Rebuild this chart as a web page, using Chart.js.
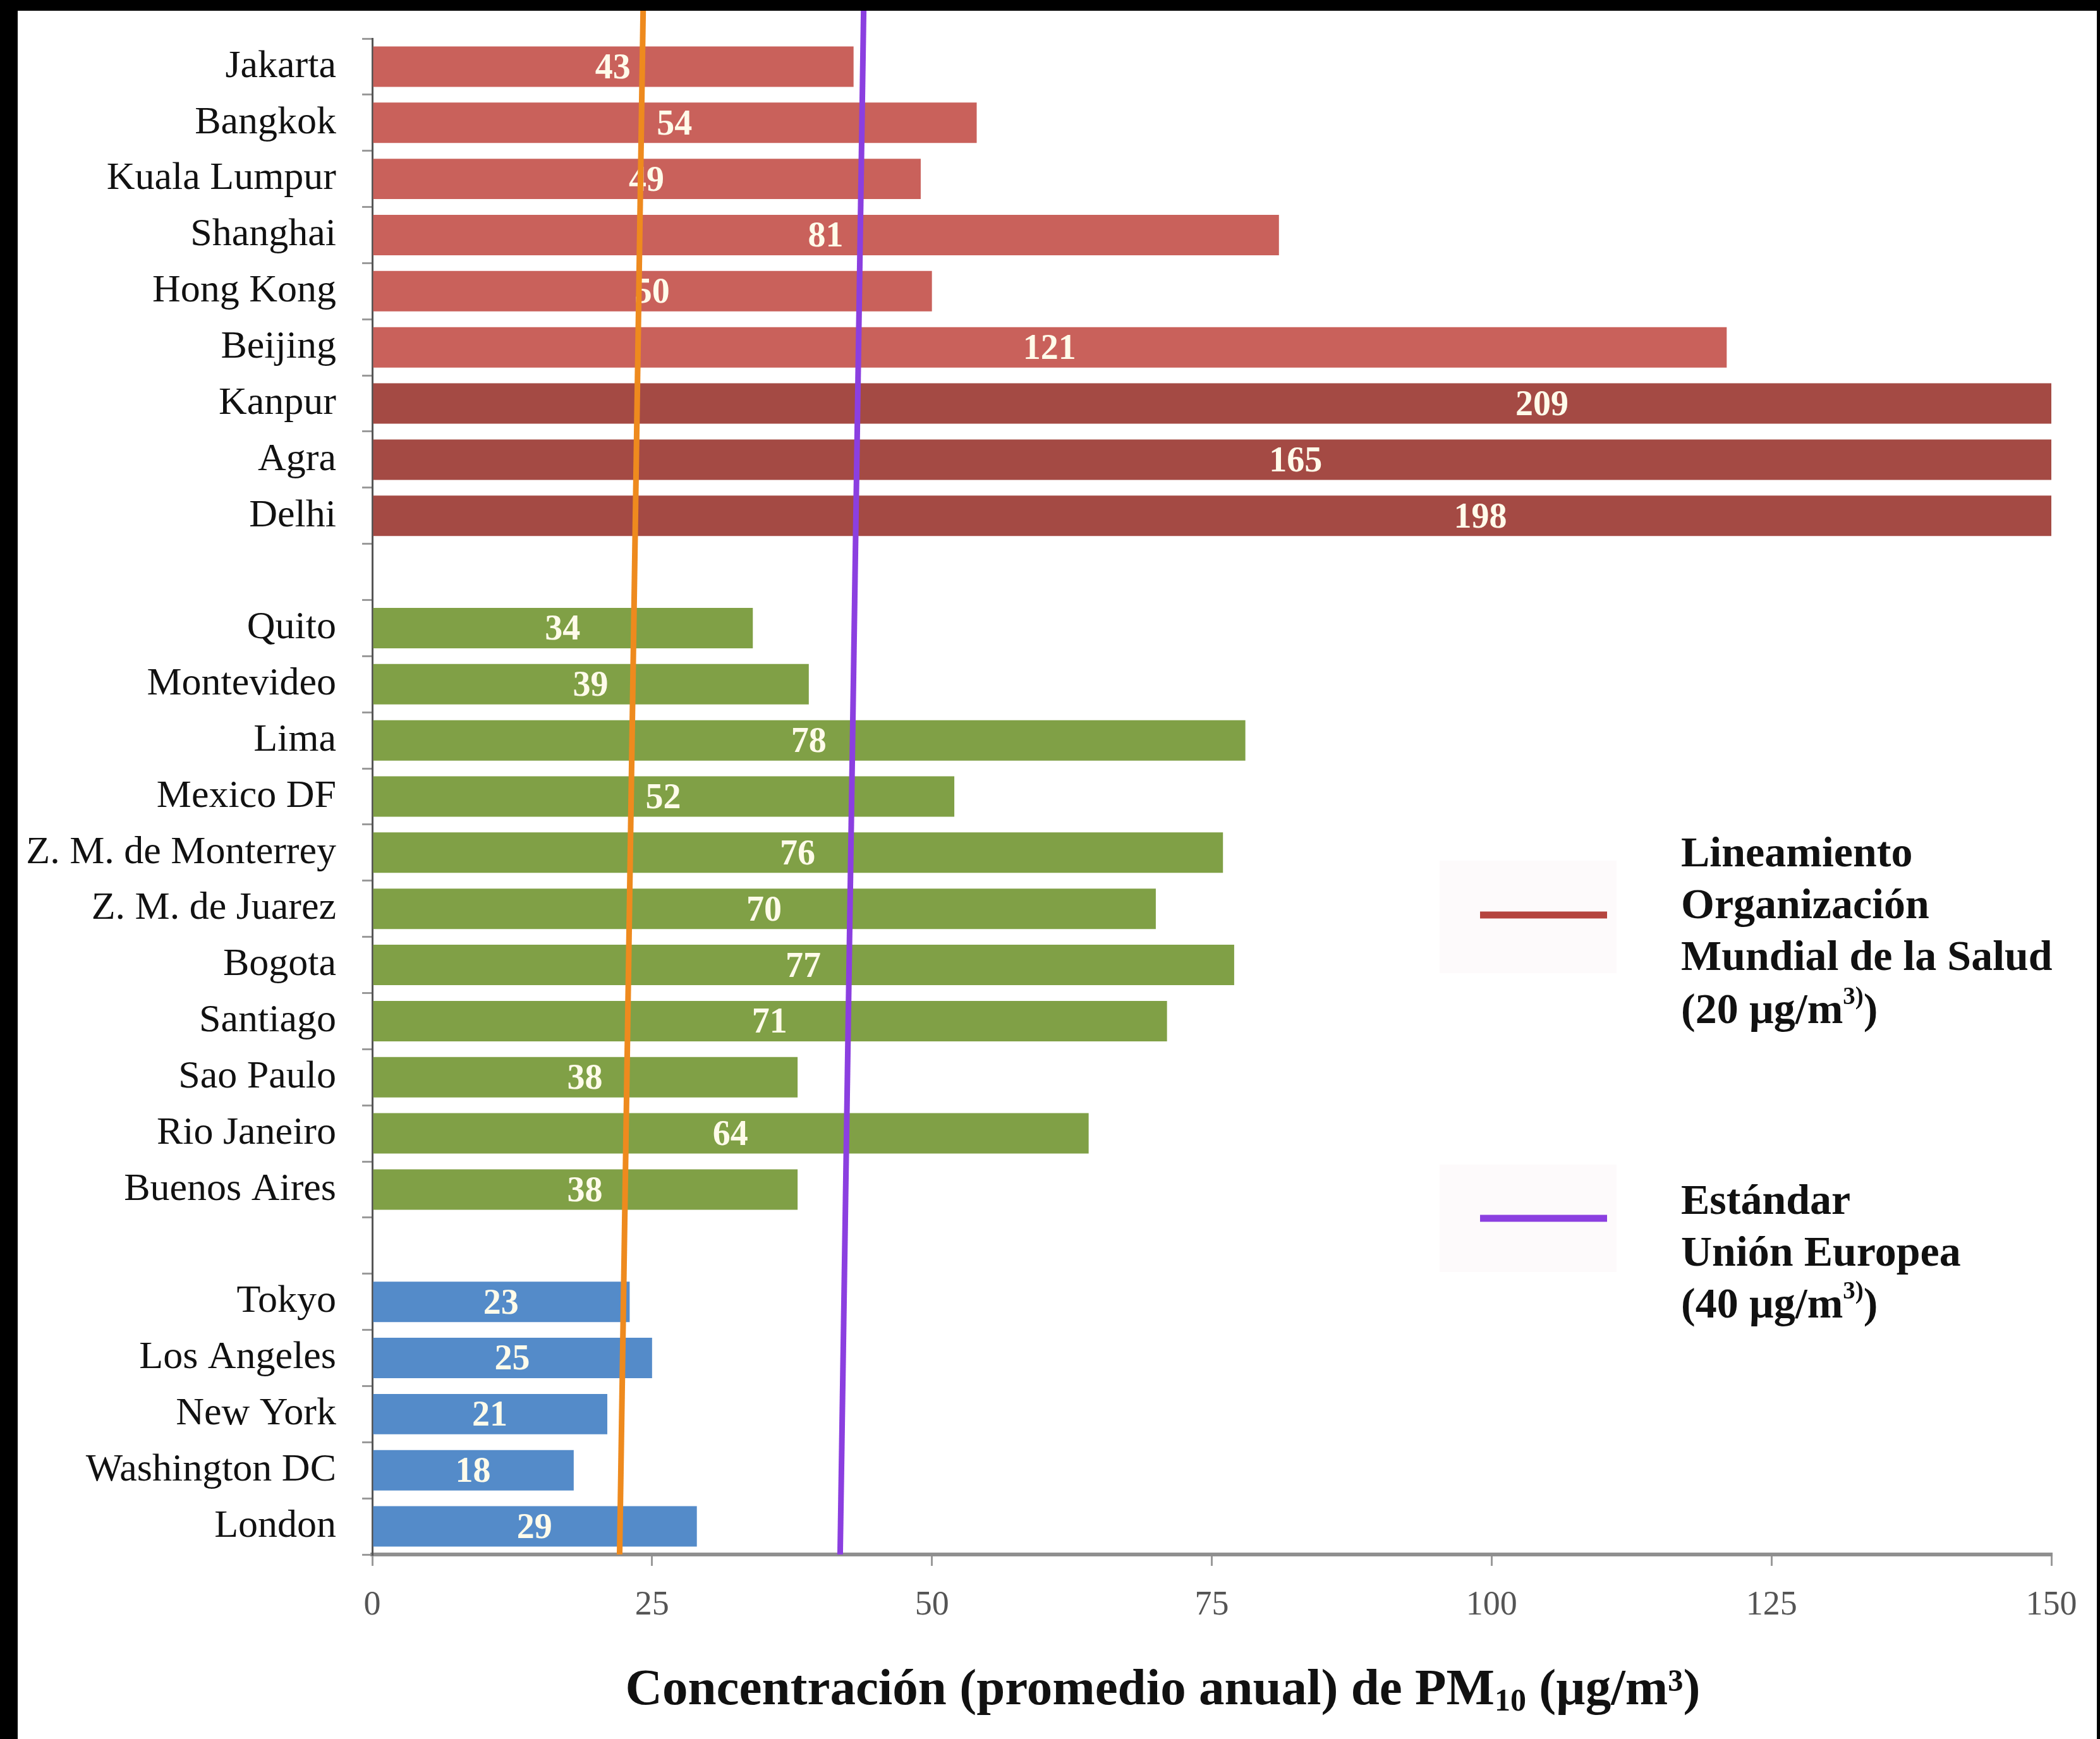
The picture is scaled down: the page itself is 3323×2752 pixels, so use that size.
<!DOCTYPE html>
<html>
<head>
<meta charset="utf-8">
<script src="https://cdn.jsdelivr.net/npm/chart.js@4"></script>
<style>
  html, body { margin: 0; padding: 0; background: #000; }
  body { width: 3323px; height: 2752px; position: relative; overflow: hidden; }
  #pmChart { position: absolute; left: 28px; top: 17px; background: #fff; }
</style>
</head>
<body>
<canvas id="pmChart" width="3290" height="2735"></canvas>
<script>
// PM10 anual por ciudad, filas vacias = separacion entre regiones
const cities = [
  "Jakarta", "Bangkok", "Kuala Lumpur", "Shanghai", "Hong Kong", "Beijing",
  "Kanpur", "Agra", "Delhi", "",
  "Quito", "Montevideo", "Lima", "Mexico DF", "Z. M. de Monterrey",
  "Z. M. de Juarez", "Bogota", "Santiago", "Sao Paulo", "Rio Janeiro",
  "Buenos Aires", "",
  "Tokyo", "Los Angeles", "New York", "Washington DC", "London"
];
const pm10 = [
  43, 54, 49, 81, 50, 121,
  209, 165, 198, null,
  34, 39, 78, 52, 76,
  70, 77, 71, 38, 64,
  38, null,
  23, 25, 21, 18, 29
];
const region = [
  "asia", "asia", "asia", "asia", "asia", "asia",
  "india", "india", "india", "",
  "latam", "latam", "latam", "latam", "latam",
  "latam", "latam", "latam", "latam", "latam",
  "latam", "",
  "north", "north", "north", "north", "north"
];
const xTicks = [0, 25, 50, 75, 100, 125, 150];

// lineas de referencia (valor arriba, valor abajo) - dibujadas a mano, algo inclinadas
const whoLine = [24.2, 22.1];
const euLine = [43.9, 41.8];

const regionColors = {
  asia: "#c9615b",
  india: "#a44a44",
  latam: "#80a046",
  north: "#548bc9",
  "": "#ffffff"
};

const SERIF = "'Liberation Serif', 'Times New Roman', serif";

const barLabels = {
  id: "barLabels",
  afterDatasetsDraw(chart) {
    const ctx = chart.ctx;
    const x = chart.scales.x;
    const meta = chart.getDatasetMeta(0);
    ctx.save();
    ctx.font = "bold 56px " + SERIF;
    ctx.fillStyle = "#fffbea";
    ctx.textAlign = "center";
    ctx.textBaseline = "middle";
    pm10.forEach((v, i) => {
      if (v == null) return;
      ctx.fillText(String(v), x.getPixelForValue(v / 2), meta.data[i].y + 4);
    });
    ctx.restore();
  }
};

const refLines = {
  id: "refLines",
  afterDatasetsDraw(chart) {
    const ctx = chart.ctx;
    const x = chart.scales.x;
    const bottom = chart.chartArea.bottom;
    ctx.save();
    ctx.lineWidth = 9;
    [[whoLine, "#ee8a1e"], [euLine, "#8b3fe0"]].forEach(([vals, col]) => {
      ctx.strokeStyle = col;
      ctx.beginPath();
      ctx.moveTo(x.getPixelForValue(vals[0]), 0);
      ctx.lineTo(x.getPixelForValue(vals[1]), bottom);
      ctx.stroke();
    });
    ctx.restore();
  }
};

function drawSupLine(ctx, x, y, main, sup, tail, size) {
  ctx.font = "bold " + size + "px " + SERIF;
  ctx.fillText(main, x, y);
  let w = ctx.measureText(main).width;
  ctx.font = "bold " + Math.round(size * 0.58) + "px " + SERIF;
  ctx.fillText(sup, x + w, y - size * 0.33);
  w += ctx.measureText(sup).width;
  ctx.font = "bold " + size + "px " + SERIF;
  ctx.fillText(tail, x + w, y);
}

const sideNotes = {
  id: "sideNotes",
  afterDraw(chart) {
    const ctx = chart.ctx;
    ctx.save();
    // legend boxes (muy tenues)
    ctx.fillStyle = "#fdfafb";
    ctx.fillRect(2250, 1345, 280, 178);
    ctx.fillRect(2250, 1826, 280, 170);
    ctx.lineWidth = 11;
    ctx.strokeStyle = "#b5453f";
    ctx.beginPath(); ctx.moveTo(2314, 1431); ctx.lineTo(2515, 1431); ctx.stroke();
    ctx.strokeStyle = "#8b3fe0";
    ctx.beginPath(); ctx.moveTo(2314, 1911); ctx.lineTo(2515, 1911); ctx.stroke();

    ctx.fillStyle = "#111";
    ctx.textAlign = "left";
    ctx.textBaseline = "middle";
    ctx.font = "bold 68px " + SERIF;
    ctx.fillText("Lineamiento", 2632, 1336);
    ctx.fillText("Organización", 2632, 1418);
    ctx.fillText("Mundial de la Salud", 2632, 1500);
    drawSupLine(ctx, 2632, 1584, "(20 µg/m", "3)", ")", 68);
    ctx.font = "bold 68px " + SERIF;
    ctx.fillText("Estándar", 2632, 1886);
    ctx.fillText("Unión Europea", 2632, 1968);
    drawSupLine(ctx, 2632, 2050, "(40 µg/m", "3)", ")", 68);

    // x axis title with subscript
    const size = 81;
    const a = "Concentración (promedio anual) de PM";
    const s = "10";
    const b = " (µg/m³)";
    ctx.font = "bold " + size + "px " + SERIF;
    const wa = ctx.measureText(a).width;
    const wb = ctx.measureText(b).width;
    ctx.font = "bold " + Math.round(size * 0.62) + "px " + SERIF;
    const ws = ctx.measureText(s).width;
    let tx = 1812 - (wa + ws + wb) / 2;
    const ty = 2659;
    ctx.font = "bold " + size + "px " + SERIF;
    ctx.fillText(a, tx, ty);
    ctx.font = "bold " + Math.round(size * 0.62) + "px " + SERIF;
    ctx.fillText(s, tx + wa, ty + size * 0.22);
    ctx.font = "bold " + size + "px " + SERIF;
    ctx.fillText(b, tx + wa + ws, ty);
    ctx.restore();
  }
};

const ctx = document.getElementById("pmChart").getContext("2d");

new Chart(ctx, {
  type: "bar",
  data: {
    labels: cities,
    datasets: [{
      data: pm10,
      backgroundColor: region.map(r => regionColors[r]),
      borderWidth: 0,
      categoryPercentage: 1,
      barPercentage: 0.72
    }]
  },
  options: {
    indexAxis: "y",
    responsive: false,
    animation: false,
    devicePixelRatio: 1,
    layout: { padding: { left: 0, right: 72, top: 44, bottom: 0 } },
    plugins: {
      legend: { display: false },
      tooltip: { enabled: false }
    },
    scales: {
      x: {
        min: 0,
        max: 150,
        afterFit(scale) { scale.height = 292; },
        afterBuildTicks(scale) { scale.ticks = xTicks.map(v => ({ value: v })); },
        ticks: {
          color: "#555",
          padding: 30,
          font: { family: SERIF, size: 54 }
        },
        grid: {
          drawOnChartArea: false,
          tickLength: 18,
          color: "#9a9a9a",
          lineWidth: 3
        },
        border: { display: true, color: "#8f8f8f", width: 6 }
      },
      y: {
        afterFit(scale) {
          scale.width = 561;
          scale.paddingTop = 0;
          scale.paddingBottom = 0;
        },
        ticks: {
          autoSkip: false,
          color: "#111",
          padding: 41,
          font: { family: SERIF, size: 62 }
        },
        grid: {
          drawOnChartArea: false,
          offset: true,
          tickLength: 16,
          color: "#9a9a9a",
          lineWidth: 3
        },
        border: { display: true, color: "#555", width: 3 }
      }
    }
  },
  plugins: [barLabels, refLines, sideNotes]
});
</script>
</body>
</html>
